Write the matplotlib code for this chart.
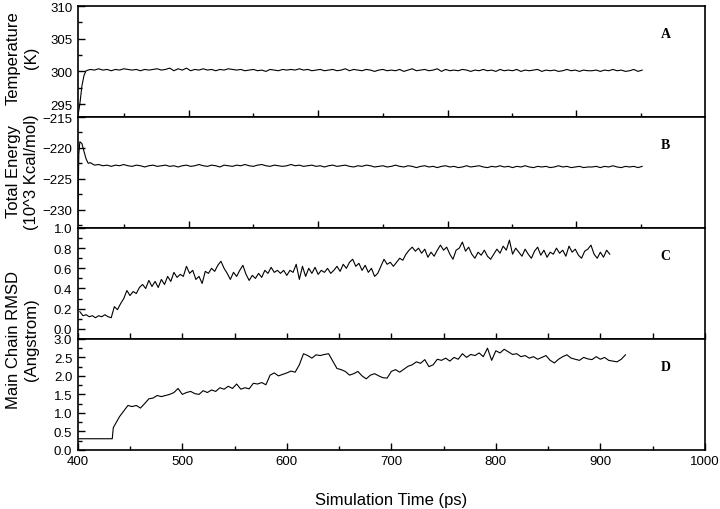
import numpy as np
import matplotlib
matplotlib.use("Agg")
import matplotlib.pyplot as plt
from matplotlib.ticker import MultipleLocator, FixedLocator, NullFormatter

plt.rcParams['font.family'] = ['Liberation Sans', 'DejaVu Sans']

# --- panel A: temperature (K) ---
t_temp = [400, 402, 404, 406, 408] + list(range(412, 941, 4))
temp = [293.0, 295.0, 297.8, 299.4, 300.1,
        300.3, 300.2, 300.4, 300.2, 300.3, 300.1, 300.3, 300.2, 300.4, 300.3,
        300.2, 300.3, 300.1, 300.3, 300.2, 300.3, 300.4, 300.2, 300.3, 300.5,
        300.1, 300.4, 300.2, 300.5, 300.1, 300.3, 300.2, 300.4, 300.2, 300.3,
        300.1, 300.3, 300.2, 300.4, 300.3, 300.2, 300.3, 300.1, 300.2, 300.3,
        300.1, 300.2, 300.0, 300.3, 300.2, 300.1, 300.3, 300.2, 300.3, 300.2,
        300.4, 300.2, 300.3, 300.1, 300.2, 300.3, 300.1, 300.2, 300.3, 300.1,
        300.2, 300.4, 300.1, 300.3, 300.2, 300.1, 300.3, 300.2, 300.0, 300.2,
        300.3, 300.1, 300.2, 300.1, 300.3, 300.0, 300.2, 300.4, 300.1, 300.2,
        300.3, 300.1, 300.2, 300.4, 300.0, 300.3, 300.1, 300.2, 300.1, 300.3,
        300.2, 300.0, 300.2, 300.1, 300.3, 300.1, 300.2, 300.0, 300.3, 300.1,
        300.2, 300.1, 300.3, 300.0, 300.2, 300.1, 300.2, 300.3, 300.0, 300.2,
        300.1, 300.2, 300.0, 300.1, 300.3, 300.1, 300.2, 300.0, 300.2, 300.1,
        300.1, 300.2, 300.0, 300.2, 300.1, 300.3, 300.1, 300.2, 300.0, 300.1,
        300.3, 300.0, 300.2]

# --- panel B: total energy (10^3 kcal/mol) ---
t_energy = [400, 401, 402, 404, 406, 408, 410] + list(range(412, 941, 4))
energy = [-233.0, -221.0, -219.0, -219.3, -220.6, -221.8, -222.5,
          -222.4, -222.8, -222.7, -222.9, -222.8, -223.0, -222.8, -222.9, -222.7, -222.9,
          -223.0, -222.8, -222.9, -223.1, -222.9, -222.8, -223.0, -222.9, -222.8, -223.0,
          -222.9, -223.1, -222.9, -222.8, -223.0, -222.9, -222.7, -222.9, -223.0, -222.8,
          -222.9, -223.1, -222.8, -222.9, -223.0, -222.8, -222.9, -222.7, -222.9, -223.0,
          -222.8, -222.7, -222.9, -223.0, -222.8, -222.9, -223.0, -222.9, -222.7, -222.9,
          -222.8, -223.0, -222.9, -222.8, -223.0, -222.9, -223.1, -222.9, -222.8, -223.0,
          -222.9, -222.8, -223.0, -223.1, -222.9, -223.0, -222.8, -222.9, -223.1, -223.0,
          -222.9, -223.1, -223.0, -222.8, -223.0, -223.1, -222.9, -223.0, -223.2, -223.0,
          -222.9, -223.1, -223.0, -223.2, -223.0, -222.9, -223.1, -223.0, -223.2, -223.1,
          -222.9, -223.1, -223.0, -222.9, -223.1, -223.2, -223.0, -223.1, -222.9, -223.1,
          -223.0, -223.2, -223.0, -223.1, -222.9, -223.1, -223.2, -223.0, -223.1, -223.0,
          -223.2, -223.1, -222.9, -223.1, -223.0, -223.2, -223.1, -223.0, -223.2, -223.1,
          -223.1, -223.0, -223.2, -223.0, -223.1, -222.9, -223.1, -223.2, -223.0, -223.1,
          -223.0, -223.2, -223.0]

# --- panel C: main chain RMSD (Angstrom) ---
t_rmsd_c = list(range(402, 911, 3))
rmsd_c = [0.17, 0.13, 0.14, 0.12, 0.13, 0.11, 0.13, 0.12, 0.14, 0.12, 0.11,
          0.22, 0.19, 0.25, 0.30, 0.38, 0.33, 0.37, 0.35, 0.41, 0.44,
          0.40, 0.48, 0.42, 0.47, 0.41, 0.49, 0.44, 0.52, 0.47, 0.56,
          0.51, 0.54, 0.52, 0.62, 0.55, 0.58, 0.49, 0.52, 0.45, 0.57,
          0.55, 0.60, 0.57, 0.63, 0.67, 0.60, 0.55, 0.49, 0.56, 0.52,
          0.58, 0.63, 0.54, 0.48, 0.53, 0.50, 0.55, 0.51, 0.58, 0.55,
          0.61, 0.56, 0.58, 0.55, 0.58, 0.53, 0.58, 0.56, 0.64, 0.49,
          0.62, 0.52, 0.60, 0.55, 0.61, 0.54, 0.58, 0.56, 0.60, 0.55,
          0.58, 0.62, 0.57, 0.64, 0.60, 0.66, 0.69, 0.62, 0.65, 0.58,
          0.63, 0.56, 0.60, 0.52, 0.55, 0.62, 0.69, 0.64, 0.66, 0.62,
          0.66, 0.70, 0.68, 0.74, 0.78, 0.81, 0.77, 0.80, 0.75, 0.79,
          0.71, 0.76, 0.72, 0.78, 0.83, 0.78, 0.81, 0.74, 0.69, 0.78,
          0.80, 0.86, 0.77, 0.81, 0.74, 0.70, 0.76, 0.73, 0.78, 0.72,
          0.69, 0.74, 0.79, 0.75, 0.82, 0.78, 0.88, 0.74, 0.80, 0.76,
          0.72, 0.79, 0.74, 0.70, 0.77, 0.81, 0.73, 0.78, 0.71, 0.76,
          0.74, 0.80, 0.75, 0.78, 0.72, 0.82, 0.76, 0.79, 0.73, 0.70,
          0.77, 0.79, 0.83, 0.74, 0.70, 0.76, 0.71, 0.78, 0.74]

# --- panel D: main chain RMSD (Angstrom) ---
t_rmsd_d = [400, 433, 434] + list(range(436, 926, 4))
rmsd_d = [0.30, 0.30, 0.60,
          0.70, 0.90, 1.05, 1.20, 1.17, 1.20, 1.13, 1.25, 1.38, 1.40,
          1.47, 1.44, 1.47, 1.50, 1.55, 1.66, 1.50, 1.55, 1.58, 1.52,
          1.50, 1.60, 1.55, 1.62, 1.58, 1.68, 1.64, 1.72, 1.66, 1.78,
          1.64, 1.68, 1.65, 1.80, 1.78, 1.82, 1.76, 2.02, 2.08, 2.00,
          2.04, 2.08, 2.13, 2.10, 2.30, 2.60, 2.55, 2.48, 2.57, 2.55,
          2.58, 2.60, 2.40, 2.20, 2.17, 2.12, 2.02, 2.06, 2.12, 2.00,
          1.92, 2.02, 2.06, 2.00, 1.95, 1.94, 2.12, 2.17, 2.10, 2.18,
          2.26, 2.30, 2.38, 2.34, 2.44, 2.25, 2.30, 2.45, 2.42, 2.48,
          2.40, 2.50, 2.45, 2.60, 2.50, 2.58, 2.55, 2.62, 2.52, 2.75,
          2.42, 2.68, 2.62, 2.72, 2.65, 2.58, 2.60, 2.52, 2.55, 2.48,
          2.52, 2.45, 2.50, 2.55, 2.42, 2.35, 2.45, 2.52, 2.57, 2.48,
          2.45, 2.42, 2.50, 2.46, 2.44, 2.52, 2.45, 2.50, 2.42, 2.40,
          2.38, 2.45, 2.57]

# x ticks of the two upper panels (they sit on a different grid)
top_major = [506, 630, 754, 877]
top_minor = [444, 568, 692, 815, 939]

panel_letters = ['A', 'B', 'C', 'D']

fig, axes = plt.subplots(4, 1, figsize=(7.2, 5.1), dpi=100)
fig.subplots_adjust(left=0.108, right=0.979, top=0.986, bottom=0.116, hspace=0)

series = [(t_temp, temp), (t_energy, energy), (t_rmsd_c, rmsd_c), (t_rmsd_d, rmsd_d)]
ylims = [(293, 310), (-233, -215), (-0.1, 1.0), (0.0, 3.0)]
ymajor = [5, 5, 0.2, 0.5]
yminor = [2.5, 2.5, 0.1, 0.25]

for ax, (t, y), yl, ma, mi, letter in zip(axes, series, ylims, ymajor, yminor, panel_letters):
    ax.plot(t, y, color='black', lw=0.8)
    ax.set_xlim(400, 1000)
    ax.set_ylim(*yl)
    ax.yaxis.set_major_locator(MultipleLocator(ma))
    ax.yaxis.set_minor_locator(MultipleLocator(mi))
    ax.tick_params(which='both', direction='in', labelsize=9.5, right=False, top=False,
                   width=1.0, pad=4)
    ax.tick_params(which='major', length=5)
    ax.tick_params(which='minor', length=3)
    for s in ax.spines.values():
        s.set_linewidth(1.2)
    ax.text(0.937, 0.75, letter, transform=ax.transAxes, ha='center', va='center',
            fontsize=10, fontweight='bold', family=['Liberation Serif', 'DejaVu Serif'])

for ax in axes[:2]:
    ax.xaxis.set_major_locator(FixedLocator(top_major))
    ax.xaxis.set_minor_locator(FixedLocator(top_minor))
    ax.xaxis.set_major_formatter(NullFormatter())

axes[2].xaxis.set_major_locator(MultipleLocator(50))
axes[2].xaxis.set_major_formatter(NullFormatter())
axes[2].tick_params(axis='x', which='major', length=4)

axes[3].xaxis.set_major_locator(MultipleLocator(100))
axes[3].xaxis.set_minor_locator(MultipleLocator(50))
axes[3].set_xlabel('Simulation Time (ps)', fontsize=12, labelpad=18)

ylab_kw = dict(rotation=90, ha='center', va='center', fontsize=12, linespacing=1.3,
               multialignment='center')
fig.text(0.031, 1 - 58 / 510, 'Temperature\n(K)', **ylab_kw)
fig.text(0.031, 1 - 172 / 510, 'Total Energy\n(10^3 Kcal/mol)', **ylab_kw)
fig.text(0.031, 1 - 340 / 510, 'Main Chain RMSD\n(Angstrom)', **ylab_kw)

fig.savefig('out.png', dpi=100)
